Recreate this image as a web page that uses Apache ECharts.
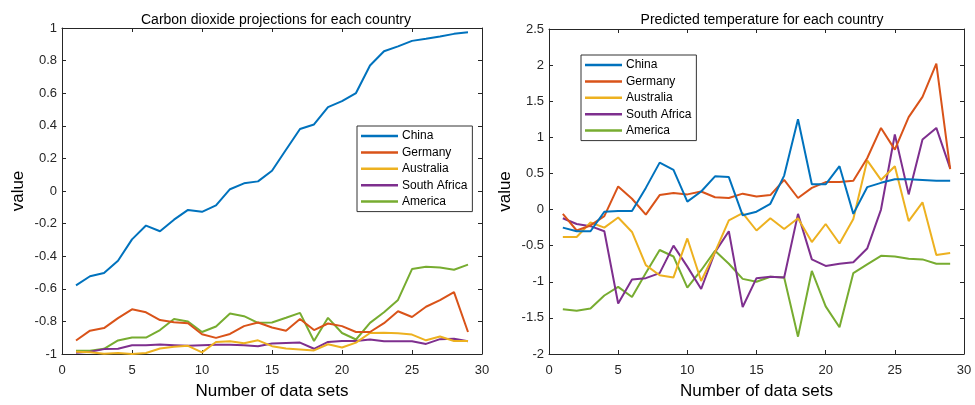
<!DOCTYPE html>
<html>
<head>
<meta charset="utf-8">
<script src="https://cdn.jsdelivr.net/npm/echarts@6/dist/echarts.min.js"></script>
<style>html,body{margin:0;padding:0;background:#fff;}#c{width:975px;height:405px;}</style>
</head>
<body>
<div id="c"></div>
<script>
const xs = [1,2,3,4,5,6,7,8,9,10,11,12,13,14,15,16,17,18,19,20,21,22,23,24,25,26,27,28,29];
const names = ['China','Germany','Australia','South Africa','America'];
const colors = ['#0072BD','#D95319','#EDB120','#7E2F8E','#77AC30'];

// Carbon dioxide projections
const co2China = [-0.579,-0.523,-0.503,-0.428,-0.297,-0.212,-0.247,-0.176,-0.116,-0.128,-0.088,0.011,0.047,0.059,0.124,0.253,0.380,0.408,0.515,0.551,0.601,0.770,0.857,0.887,0.921,0.934,0.948,0.964,0.974];
const co2Germany = [-0.917,-0.857,-0.841,-0.780,-0.726,-0.744,-0.792,-0.805,-0.811,-0.879,-0.901,-0.877,-0.829,-0.807,-0.837,-0.857,-0.785,-0.853,-0.813,-0.829,-0.865,-0.865,-0.811,-0.738,-0.773,-0.710,-0.670,-0.620,-0.865];
const co2Australia = [-0.986,-0.990,-0.998,-0.994,-1.0,-0.994,-0.966,-0.956,-0.950,-0.990,-0.926,-0.922,-0.934,-0.916,-0.952,-0.966,-0.972,-0.978,-0.940,-0.960,-0.930,-0.871,-0.869,-0.873,-0.881,-0.916,-0.893,-0.920,-0.920];
const co2SouthAfrica = [-0.992,-0.986,-0.970,-0.968,-0.946,-0.946,-0.942,-0.946,-0.950,-0.946,-0.944,-0.944,-0.946,-0.952,-0.936,-0.932,-0.930,-0.968,-0.926,-0.920,-0.920,-0.911,-0.922,-0.922,-0.922,-0.938,-0.909,-0.907,-0.922];
const co2America = [-0.980,-0.980,-0.968,-0.917,-0.899,-0.899,-0.853,-0.785,-0.801,-0.865,-0.831,-0.752,-0.768,-0.809,-0.807,-0.778,-0.748,-0.920,-0.778,-0.871,-0.911,-0.809,-0.744,-0.668,-0.479,-0.465,-0.469,-0.483,-0.452];

// Predicted temperature
const tChina = [-0.25,-0.30,-0.30,-0.03,-0.02,-0.02,0.30,0.65,0.55,0.11,0.25,0.46,0.45,-0.08,-0.03,0.08,0.47,1.25,0.35,0.35,0.60,-0.06,0.31,0.37,0.42,0.42,0.41,0.40,0.40];
const tGermany = [-0.06,-0.29,-0.22,-0.09,0.32,0.15,-0.07,0.20,0.23,0.21,0.25,0.17,0.16,0.22,0.18,0.20,0.41,0.16,0.30,0.38,0.38,0.40,0.71,1.13,0.83,1.28,1.56,2.02,0.56];
const tAustralia = [-0.38,-0.38,-0.18,-0.25,-0.11,-0.31,-0.77,-0.91,-0.94,-0.40,-0.99,-0.59,-0.15,-0.05,-0.29,-0.12,-0.27,-0.12,-0.45,-0.20,-0.47,-0.13,0.68,0.41,0.60,-0.16,0.10,-0.63,-0.60];
const tSouthAfrica = [-0.12,-0.20,-0.23,-0.30,-1.30,-0.97,-0.95,-0.88,-0.50,-0.79,-1.10,-0.59,-0.30,-1.35,-0.95,-0.93,-0.94,-0.06,-0.69,-0.78,-0.75,-0.73,-0.54,0.00,1.04,0.21,0.97,1.13,0.57];
const tAmerica = [-1.38,-1.40,-1.37,-1.19,-1.07,-1.21,-0.88,-0.56,-0.65,-1.08,-0.84,-0.57,-0.75,-0.96,-1.00,-0.93,-0.94,-1.76,-0.85,-1.34,-1.63,-0.88,-0.76,-0.64,-0.65,-0.68,-0.69,-0.75,-0.75];

const co2Sets = [co2China, co2Germany, co2Australia, co2SouthAfrica, co2America];
const tSets = [tChina, tGermany, tAustralia, tSouthAfrica, tAmerica];

const FONT = '"Liberation Sans", Arial, Helvetica, sans-serif';
const AX = '#262626';

function pairs(vals){ return xs.map((x,i)=>[x, vals[i]]); }

function xAx(grid, pos, show){
  return {
    type:'value', gridIndex:grid, position:pos, min:0, max:30, interval:5,
    axisLine:{show:true, onZero:false, lineStyle:{color:AX, width:1}},
    axisTick:{show:true, inside:true, length:4, lineStyle:{color:AX}},
    axisLabel:{show:show, color:AX, fontSize:13, fontFamily:FONT, margin:10},
    splitLine:{show:false},
    name: show ? 'Number of data sets' : '',
    nameLocation:'middle', nameGap:29,
    nameTextStyle:{color:'#000', fontSize:17, fontFamily:FONT}
  };
}
function yAx(grid, pos, show, min, max, interval){
  return {
    type:'value', gridIndex:grid, position:pos, min:min, max:max, interval:interval,
    axisLine:{show:true, onZero:false, lineStyle:{color:AX, width:1}},
    axisTick:{show:true, inside:true, length:4, lineStyle:{color:AX}},
    axisLabel:{show:show, color:AX, fontSize:13, fontFamily:FONT, margin:5},
    splitLine:{show:false},
    name: show ? 'value' : '',
    nameLocation:'middle', nameGap:35,
    nameTextStyle:{color:'#000', fontSize:17, fontFamily:FONT}
  };
}

const series = [];
names.forEach((n,i)=>{
  series.push({name:n, type:'line', xAxisIndex:0, yAxisIndex:0, data:pairs(co2Sets[i]),
    showSymbol:false, symbol:'none', lineStyle:{width:2, color:colors[i]}, itemStyle:{color:colors[i]}, animation:false, z:10-i});
});
names.forEach((n,i)=>{
  series.push({name:n, type:'line', xAxisIndex:2, yAxisIndex:2, data:pairs(tSets[i]),
    showSymbol:false, symbol:'none', lineStyle:{width:2, color:colors[i]}, itemStyle:{color:colors[i]}, animation:false, z:10-i});
});

function legend(left, top){
  return {
    data:names, orient:'vertical', left:left, top:top,
    icon:'rect', itemWidth:37, itemHeight:2.5, itemGap:4.4,
    padding:[4,5,4,4], borderColor:'#333', borderWidth:1, backgroundColor:'#fff',
    textStyle:{color:'#000', fontSize:12, fontFamily:FONT, padding:[0,0,0,-1]},
    selectedMode:false
  };
}

const chart = echarts.init(document.getElementById('c'), null, {renderer:'canvas'});
chart.setOption({
  animation:false,
  backgroundColor:'#fff',
  title:[
    {text:'Carbon dioxide projections for each country', left:271, top:8, textAlign:'center',
      textStyle:{color:'#000', fontSize:14, fontWeight:'normal', fontFamily:FONT}},
    {text:'Predicted temperature for each country', left:757, top:8, textAlign:'center',
      textStyle:{color:'#000', fontSize:14, fontWeight:'normal', fontFamily:FONT}}
  ],
  grid:[
    {left:62, top:28, width:420, height:331, containLabel:false},
    {left:549, top:29, width:415, height:327, containLabel:false}
  ],
  xAxis:[ xAx(0,'bottom',true), xAx(0,'top',false), xAx(1,'bottom',true), xAx(1,'top',false) ],
  yAxis:[ yAx(0,'left',true,-1,1,0.2), yAx(0,'right',false,-1,1,0.2),
          yAx(1,'left',true,-2,2.5,0.5), yAx(1,'right',false,-2,2.5,0.5) ],
  legend:[ legend(357,126), legend(581,55) ],
  series:series
});
</script>
</body>
</html>
